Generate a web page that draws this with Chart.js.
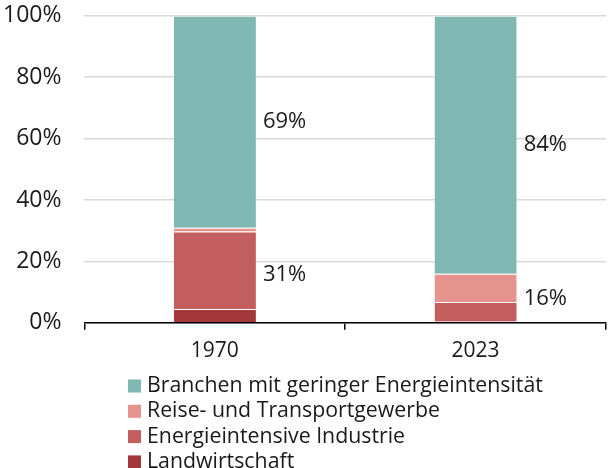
<!DOCTYPE html>
<html>
<head>
<meta charset="utf-8">
<script src="https://cdn.jsdelivr.net/npm/chart.js@4/dist/chart.umd.min.js"></script>
<style>
  html, body { margin: 0; padding: 0; background: #fff; }
  #wrap { width: 610px; height: 468px; }
</style>
</head>
<body>
<div id="wrap"><canvas id="graph" width="610" height="468"></canvas></div>
<script>
// Categories (years)
var years = ['1970', '2023'];

// Series values in percent of total, bottom to top
var landwirtschaft = [4.5, 0.4];
var energieintensiv = [25.2, 6.4];
var reiseTransport = [1.3, 9.2];
var geringeEnergie = [69, 84];

// Y tick labels
var yTicks = [0, 20, 40, 60, 80, 100];

var colors = {
    land: '#a3373a',
    energie: '#c25e5d',
    reise: '#e6938d',
    gering: '#7fb8b2'
};

var fontFamily = "'Open Sans', 'Noto Sans', sans-serif";
var textColor = '#1a1a1a';

function makeSet(label, values, color) {
    return {
        label: label,
        data: values,
        backgroundColor: color,
        borderColor: 'rgba(255,255,255,0.35)',
        borderWidth: { top: 1 },
        borderSkipped: false,
        barPercentage: 0.315,
        categoryPercentage: 1
    };
}

// Value labels right of each bar: lower group sum and top segment
var sideLabels = {
    id: 'sideLabels',
    afterDatasetsDraw: function(chart) {
        var ctx = chart.ctx;
        var y = chart.scales.y;
        var topMeta = chart.getDatasetMeta(3);
        ctx.save();
        ctx.font = '22px ' + fontFamily;
        ctx.fillStyle = textColor;
        ctx.textAlign = 'left';
        ctx.textBaseline = 'middle';
        years.forEach(function(yr, i) {
            var lower = landwirtschaft[i] + energieintensiv[i] + reiseTransport[i];
            var bar = topMeta.data[i];
            var x = bar.x + bar.width / 2 + 7;
            ctx.fillText(Math.round(lower) + '%', x, y.getPixelForValue(lower / 2));
            ctx.fillText(Math.round(geringeEnergie[i]) + '%', x, y.getPixelForValue(lower + (100 - lower) / 2));
        });
        ctx.restore();
    }
};

// Vertical legend under the axis, top series first
var stackLegend = {
    id: 'stackLegend',
    afterDraw: function(chart) {
        var ctx = chart.ctx;
        var sets = chart.data.datasets.slice().reverse();
        ctx.save();
        ctx.font = '21.3px ' + fontFamily;
        ctx.textBaseline = 'middle';
        ctx.textAlign = 'left';
        sets.forEach(function(ds, k) {
            var cy = 386 + k * 25.3;
            ctx.fillStyle = ds.backgroundColor;
            ctx.fillRect(128, cy - 6.5, 13, 13);
            ctx.fillStyle = textColor;
            ctx.fillText(ds.label, 147, cy);
        });
        ctx.restore();
    }
};

var canvas = document.getElementById('graph');

var chart = new Chart(canvas, {
    type: 'bar',
    data: {
        labels: years,
        datasets: [
            makeSet('Landwirtschaft', landwirtschaft, colors.land),
            makeSet('Energieintensive Industrie', energieintensiv, colors.energie),
            makeSet('Reise- und Transportgewerbe', reiseTransport, colors.reise),
            makeSet('Branchen mit geringer Energieintensität', geringeEnergie, colors.gering)
        ]
    },
    options: {
        responsive: false,
        animation: false,
        layout: {
            padding: { left: 1, right: 4, top: 0, bottom: 95 }
        },
        plugins: {
            legend: { display: false },
            tooltip: { enabled: false }
        },
        scales: {
            x: {
                stacked: true,
                border: { display: true, color: '#000', width: 1.5 },
                grid: {
                    offset: true,
                    drawOnChartArea: false,
                    drawTicks: true,
                    tickLength: 7,
                    color: '#000',
                    lineWidth: 1.5
                },
                ticks: {
                    color: textColor,
                    font: { family: fontFamily, size: 21 },
                    padding: 9
                }
            },
            y: {
                stacked: true,
                min: 0,
                max: 100,
                afterBuildTicks: function(axis) {
                    axis.ticks = yTicks.map(function(v) { return { value: v }; });
                },
                border: { display: false },
                grid: {
                    color: '#d9d9d9',
                    lineWidth: 1.5,
                    drawTicks: true,
                    tickLength: 21,
                    tickColor: 'rgba(0,0,0,0)'
                },
                ticks: {
                    color: textColor,
                    font: { family: fontFamily, size: 23 },
                    padding: 2,
                    callback: function(v) { return v + '%'; }
                }
            }
        }
    },
    plugins: [sideLabels, stackLegend]
});
</script>
</body>
</html>
